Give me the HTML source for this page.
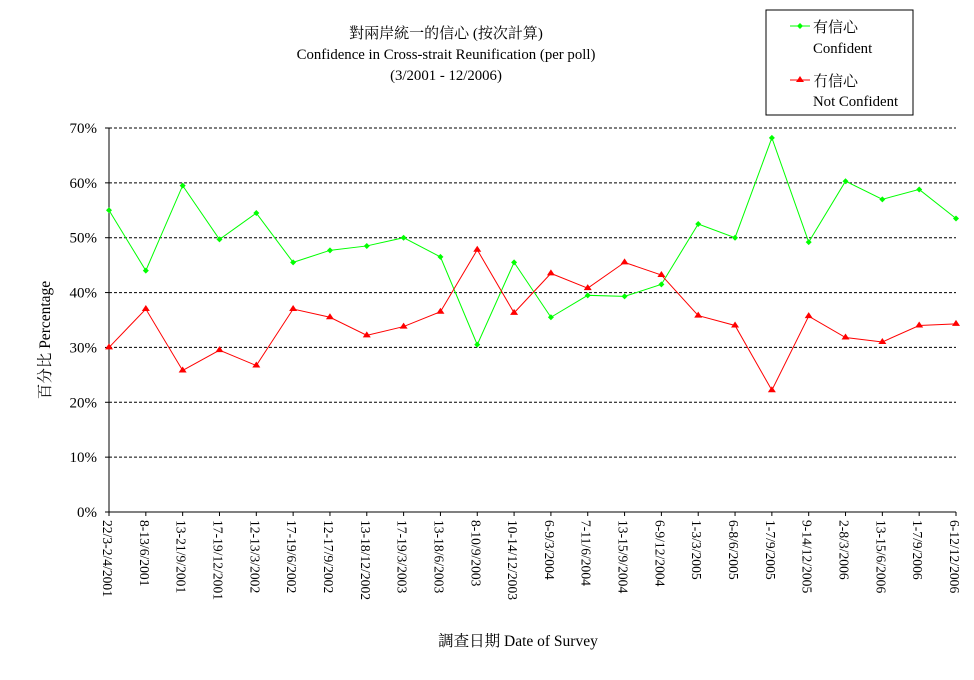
<!DOCTYPE html>
<html><head><meta charset="utf-8">
<style>
html,body{margin:0;padding:0;background:#fff;}
svg{display:block;font-family:"Liberation Serif","Noto Serif CJK SC","Noto Sans CJK TC",serif;}
</style></head>
<body>
<svg id="chart" width="974" height="680" viewBox="0 0 974 680" xmlns="http://www.w3.org/2000/svg">
<g text-anchor="middle" fill="#000">
<text x="446" y="38" font-size="15">對兩岸統一的信心 (按次計算)</text>
<text x="446" y="59" font-size="14.8">Confidence in Cross-strait Reunification (per poll)</text>
<text x="446" y="80" font-size="14.8">(3/2001 - 12/2006)</text>
</g>
<g>
<rect x="766" y="10" width="147" height="105" fill="#fff" stroke="#000" stroke-width="1"/>
<g>
<line x1="790" y1="26" x2="810" y2="26" stroke="#00ff00"/>
<path d="M800 23 L803 26 L800 29 L797 26 Z" fill="#00ff00"/>
<text x="813" y="32" font-size="15">有信心</text>
<text x="813" y="53" font-size="14.8">Confident</text>
</g>
<g>
<line x1="790" y1="80" x2="810" y2="80" stroke="#ff0000"/>
<path d="M800 76 L804 82 L796 82 Z" fill="#ff0000"/>
<text x="813" y="86" font-size="15">冇信心</text>
<text x="813" y="106" font-size="14.8">Not Confident</text>
</g>
</g>
<g id="grid"></g>
<g id="yaxis"></g>
<g id="xaxis"></g>
<g id="series"></g>
<text transform="translate(50,340) rotate(-90)" text-anchor="middle" font-size="15.5">百分比 Percentage</text>
<text x="518" y="646" text-anchor="middle" font-size="15.5">調查日期 Date of Survey</text>
</svg>
<script>
const categories = ["22/3-2/4/2001","8-13/6/2001","13-21/9/2001","17-19/12/2001","12-13/3/2002","17-19/6/2002","12-17/9/2002","13-18/12/2002","17-19/3/2003","13-18/6/2003","8-10/9/2003","10-14/12/2003","6-9/3/2004","7-11/6/2004","13-15/9/2004","6-9/12/2004","1-3/3/2005","6-8/6/2005","1-7/9/2005","9-14/12/2005","2-8/3/2006","13-15/6/2006","1-7/9/2006","6-12/12/2006"];
const confident = [55,44,59.5,49.7,54.5,45.5,47.7,48.5,50,46.5,30.5,45.5,35.5,39.5,39.3,41.5,52.5,50,68.2,49.2,60.3,57,58.8,53.5];
const notConfident = [30,37,25.8,29.5,26.7,37,35.5,32.2,33.8,36.5,47.8,36.3,43.5,40.8,45.5,43.2,35.8,34,22.2,35.7,31.8,31,34,34.3];
const yTicks = [0,10,20,30,40,50,60,70];
const yTickLabels = ["0%","10%","20%","30%","40%","50%","60%","70%"];

const NS="http://www.w3.org/2000/svg";
const X0=109,X1=956,Y0=512,Y1=128,YMAX=70;
function xs(i){return X0+(X1-X0)*i/(categories.length-1);}
function ys(v){return Y0-(Y0-Y1)*v/YMAX;}
function mk(tag,attrs,parent){const e=document.createElementNS(NS,tag);for(const k in attrs)e.setAttribute(k,attrs[k]);parent.appendChild(e);return e;}
const grid=document.getElementById('grid'),yax=document.getElementById('yaxis'),xax=document.getElementById('xaxis'),ser=document.getElementById('series');
yTicks.forEach((t,i)=>{
  if(t>0){const g=mk('line',{x1:X0,x2:X1,y1:ys(t),y2:ys(t),stroke:'#000','stroke-dasharray':'3,2','stroke-width':1},grid);
  
  }
  const tk=mk('line',{x1:X0-4,x2:X0,y1:ys(t),y2:ys(t),stroke:'#000'},yax);
  
  
  const lb=mk('text',{x:X0-12,y:ys(t)+5,'text-anchor':'end','font-size':15},yax);
  lb.textContent=yTickLabels[i];
  
  
});
mk('line',{x1:X0,x2:X0,y1:Y1,y2:Y0,stroke:'#000'},yax);
mk('line',{x1:X0,x2:X1,y1:Y0,y2:Y0,stroke:'#000'},xax);
categories.forEach((c,i)=>{
  const x=xs(i);
  const tk=mk('line',{x1:x,x2:x,y1:Y0,y2:Y0+4,stroke:'#000'},xax);
  
  
  const lb=mk('text',{transform:`translate(${x-6},${Y0+8}) rotate(90)`,'font-size':13.6},xax);
  lb.textContent=c;
  
  
});
function drawSeries(vals,color,name,marker){
  const pts=vals.map((v,i)=>xs(i)+','+ys(v)).join(' ');
  const pl=mk('polyline',{points:pts,fill:'none',stroke:color,'stroke-width':1},ser);
  
  
  vals.forEach((v,i)=>{
    const x=xs(i),y=ys(v);
    const d=marker==='diamond'?`M${x} ${y-3} L${x+3} ${y} L${x} ${y+3} L${x-3} ${y} Z`:`M${x} ${y-4} L${x+4} ${y+2} L${x-4} ${y+2} Z`;
    const p=mk('path',{d:d,fill:color},ser);
    
    
  });
}
drawSeries(confident,'#00ff00','confident','diamond');
drawSeries(notConfident,'#ff0000','not-confident','triangle');
</script>
</body></html>
